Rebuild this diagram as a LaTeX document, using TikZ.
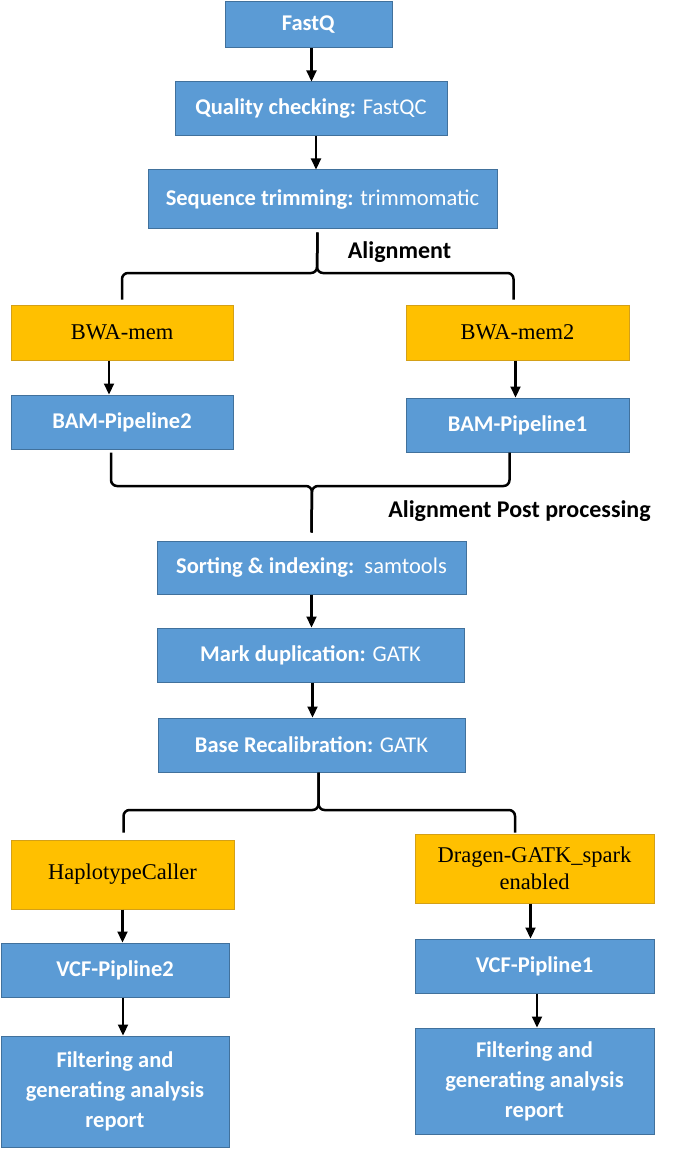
\documentclass[tikz,border=0pt]{standalone}
\usepackage{fontspec}
\setmainfont{Carlito}
\newfontfamily\timesfont{Liberation Serif}
\usetikzlibrary{arrows.meta}
\definecolor{boxblue}{HTML}{5B9BD5}
\definecolor{boxblueline}{HTML}{41719C}
\definecolor{toolorange}{HTML}{FFC000}
\definecolor{toolorangeline}{HTML}{D4A017}
\tikzset{
stepbox/.style={draw=boxblueline,fill=boxblue,text=white,line width=1pt,inner sep=0pt,align=center,font=\fontsize{22.5}{30}\selectfont},
toolbox/.style={draw=toolorangeline,fill=toolorange,text=black,line width=1pt,inner sep=0pt,align=center,font=\timesfont\fontsize{22.5}{27}\selectfont},
arr/.style={-{Triangle[length=11pt,width=10pt]},line width=2.2pt},
brace/.style={line width=2.5pt,rounded corners=6pt},
lbl/.style={font=\bfseries\fontsize{24}{28}\selectfont}
}
\begin{document}
\begin{tikzpicture}[x=1pt,y=-1pt]
\useasboundingbox (0,0) rectangle (686,1150);
\node[stepbox,minimum width=167pt,minimum height=46pt] (fastq) at (308.5,25){\textbf{FastQ}};
\node[stepbox,minimum width=272pt,minimum height=54pt] (qc) at (311,109){\textbf{Quality checking:} FastQC};
\node[stepbox,minimum width=349pt,minimum height=59pt] (trim) at (322.5,199.5){\textbf{Sequence trimming:} trimmomatic};
\node[lbl] (align) at (399.5,252){Alignment};
\node[toolbox,minimum width=222pt,minimum height=55pt] (bwa) at (122,332.5){BWA-mem};
\node[toolbox,minimum width=223pt,minimum height=55pt] (bwa2) at (517.5,332.5){BWA-mem2};
\node[stepbox,minimum width=222pt,minimum height=54pt] (bam2) at (122,422){\textbf{BAM-Pipeline2}};
\node[stepbox,minimum width=223pt,minimum height=54pt] (bam1) at (517.5,425){\textbf{BAM-Pipeline1}};
\node[lbl] (post) at (519.5,511){Alignment Post processing};
\node[stepbox,minimum width=309pt,minimum height=53pt] (sort) at (311.5,567.5){\textbf{Sorting \& indexing:}\ \ samtools};
\node[stepbox,minimum width=307pt,minimum height=54pt] (mark) at (310.5,655){\textbf{Mark duplication:} GATK};
\node[stepbox,minimum width=307pt,minimum height=54pt] (base) at (311.5,745){\textbf{Base Recalibration:} GATK};
\node[toolbox,minimum width=223pt,minimum height=69pt] (hap) at (122.5,874.5){HaplotypeCaller};
\node[toolbox,minimum width=239pt,minimum height=69pt] (dragen) at (534.5,868.5){Dragen-GATK\_spark\\enabled};
\node[stepbox,minimum width=228pt,minimum height=54pt] (vcf2) at (115,970){\textbf{VCF-Pipline2}};
\node[stepbox,minimum width=239pt,minimum height=54pt] (vcf1) at (534.5,966){\textbf{VCF-Pipline1}};
\node[stepbox,minimum width=228pt,minimum height=111pt] (filt2) at (115,1091.5){\textbf{Filtering and}\\\textbf{generating analysis}\\\textbf{report}};
\node[stepbox,minimum width=239pt,minimum height=106pt] (filt1) at (534.5,1081){\textbf{Filtering and}\\\textbf{generating analysis}\\\textbf{report}};
\draw[arr]([xshift=3pt]fastq.south)--([xshift=3pt]fastq.south |- qc.north);
\draw[arr]([xshift=5pt]qc.south)--([xshift=5pt]qc.south |- trim.north);
\draw[arr]([xshift=-13pt]bwa.south)--([xshift=-13pt]bwa.south |- bam2.north);
\draw[arr]([xshift=-2pt]bwa2.south)--([xshift=-2pt]bwa2.south |- bam1.north);
\draw[arr](sort.south)--(sort.south |- mark.north);
\draw[arr]([xshift=2pt]mark.south)--([xshift=2pt]mark.south |- base.north);
\draw[arr](hap.south)--(hap.south |- vcf2.north);
\draw[arr]([xshift=8pt]vcf2.south)--([xshift=8pt]vcf2.south |- filt2.north);
\draw[arr]([xshift=-4pt]dragen.south)--([xshift=-4pt]dragen.south |- vcf1.north);
\draw[arr]([xshift=2.5pt]vcf1.south)--([xshift=2.5pt]vcf1.south |- filt1.north);
\coordinate (aT) at ([xshift=-5pt,yshift=-3pt]trim.south);
\coordinate (aM) at (317,273);
\coordinate (aL) at ([yshift=5pt]bwa.north);
\coordinate (aR) at ([xshift=-4pt,yshift=5pt]bwa2.north);
\draw[brace](aL)|-(aM)--(aT);
\draw[brace](aR)|-(aM)--(aT);
\coordinate (pT) at ([yshift=8pt]sort.north);
\coordinate (pM) at (312,486);
\coordinate (pL) at ([xshift=-11pt,yshift=-3pt]bam2.south);
\coordinate (pR) at ([xshift=-8pt]bam1.south);
\draw[brace](pL)|-(pM)--(pT);
\draw[brace](pR)|-(pM)--(pT);
\coordinate (vT) at ([xshift=7pt]base.south);
\coordinate (vM) at (318.5,810);
\coordinate (vL) at ([xshift=1pt,yshift=7pt]hap.north);
\coordinate (vR) at ([xshift=-19.5pt,yshift=1pt]dragen.north);
\draw[brace](vL)|-(vM)--(vT);
\draw[brace](vR)|-(vM)--(vT);
\end{tikzpicture}
\end{document}
